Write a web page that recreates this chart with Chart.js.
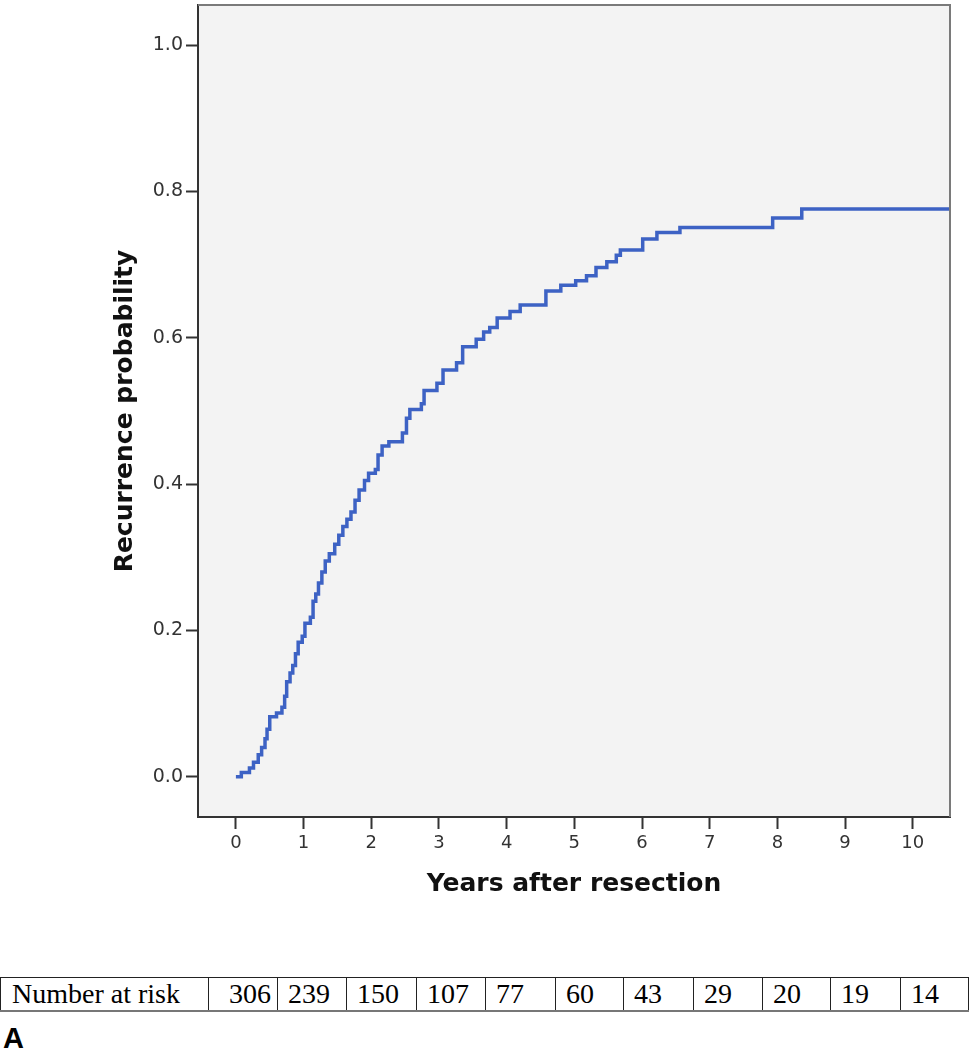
<!DOCTYPE html>
<html>
<head>
<meta charset="utf-8">
<script src="https://cdn.jsdelivr.net/npm/chart.js@4.4.1/dist/chart.umd.min.js"></script>
<style>
  html, body { margin: 0; padding: 0; background: #fff; }
  #wrap { position: relative; width: 970px; height: 1050px; overflow: hidden; }
  #kmChart { position: absolute; left: 0; top: 0; }
  #riskTable {
    position: absolute; left: 0; top: 977px;
    border-collapse: collapse;
    font-family: "Liberation Serif", "Times New Roman", serif;
    font-size: 28px; color: #000;
  }
  #riskTable td {
    border-left: 1px solid #222; border-top: 1px solid #222; border-bottom: 2px solid #777;
    height: 32px; padding: 0 0 0 10px; line-height: 32px; white-space: nowrap;
    box-sizing: border-box;
  }
  #riskTable td:last-child { border-right: 1px solid #222; }
  #panel {
    position: absolute; left: 3px; top: 1022px;
    font-family: "Liberation Sans", Arial, sans-serif; font-weight: bold; font-size: 29px;
  }
</style>
</head>
<body>
<div id="wrap">
  <canvas id="kmChart" width="970" height="920"></canvas>
  <table id="riskTable"><tr id="riskRow"></tr></table>
  <div id="panel">A</div>
</div>
<script>
// dados (anos, probabilidade acumulada de recidiva)
var anos = [0.00, 0.08, 0.20, 0.26, 0.33, 0.38, 0.43, 0.46, 0.50, 0.60, 0.68, 0.72, 0.75, 0.80, 0.84, 0.88,
            0.92, 0.98, 1.02, 1.10, 1.14, 1.18, 1.22, 1.27, 1.32, 1.38, 1.46, 1.52, 1.58, 1.64, 1.70, 1.76,
            1.82, 1.90, 1.96, 2.06, 2.10, 2.16, 2.26, 2.46, 2.52, 2.57, 2.74, 2.78, 2.97, 3.06, 3.26, 3.35,
            3.55, 3.66, 3.75, 3.86, 4.05, 4.20, 4.58, 4.80, 5.02, 5.18, 5.32, 5.48, 5.62, 5.68, 6.01, 6.22,
            6.56, 7.93, 8.36, 10.55];
var recidiva = [0.000, 0.006, 0.012, 0.020, 0.030, 0.040, 0.052, 0.065, 0.082, 0.087, 0.095, 0.110, 0.130, 0.142, 0.152, 0.168,
                0.184, 0.192, 0.210, 0.218, 0.240, 0.250, 0.265, 0.280, 0.295, 0.305, 0.318, 0.330, 0.342, 0.352, 0.362, 0.378,
                0.392, 0.405, 0.415, 0.420, 0.440, 0.452, 0.458, 0.470, 0.490, 0.502, 0.510, 0.528, 0.538, 0.556, 0.566, 0.588,
                0.598, 0.608, 0.614, 0.627, 0.636, 0.645, 0.664, 0.672, 0.678, 0.685, 0.696, 0.704, 0.713, 0.720, 0.735, 0.744,
                0.751, 0.764, 0.776, 0.776];
var ticksX = [0, 1, 2, 3, 4, 5, 6, 7, 8, 9, 10];
var ticksY = [0, 0.2, 0.4, 0.6, 0.8, 1.0];
var rotuloRisco = 'Number at risk';
var numeroRisco = [306, 239, 150, 107, 77, 60, 43, 29, 20, 19, 14];
var largurasColunas = [208, 69, 69, 70, 69, 70, 68, 70, 69, 68, 70, 68];

// tabela "Number at risk"
var linha = document.getElementById('riskRow');
[rotuloRisco].concat(numeroRisco).forEach(function(txt, i) {
    var td = document.createElement('td');
    td.textContent = txt;
    td.style.width = largurasColunas[i] + 'px';
    td.style.minWidth = largurasColunas[i] + 'px';
    if (i === 0) td.style.paddingLeft = '11px';
    if (i === 1) td.style.paddingLeft = '20px';
    linha.appendChild(td);
});

var fundoPlot = {
    id: 'fundoPlot',
    beforeDraw: function(chart) {
        var a = chart.chartArea, ctx = chart.ctx;
        ctx.save();
        ctx.fillStyle = '#f3f3f3';
        ctx.fillRect(a.left, a.top, a.right - a.left, a.bottom - a.top);
        ctx.restore();
    },
    afterDraw: function(chart) {
        var a = chart.chartArea, ctx = chart.ctx;
        ctx.save();
        ctx.strokeStyle = '#7a7a7a';
        ctx.lineWidth = 2;
        ctx.beginPath();
        ctx.moveTo(a.left, a.top);
        ctx.lineTo(a.right, a.top);
        ctx.lineTo(a.right, a.bottom);
        ctx.stroke();
        ctx.restore();
    }
};

var pontos = anos.map(function(t, i) { return {x: t, y: recidiva[i]}; });

new Chart(document.getElementById('kmChart'), {
    type: 'line',
    data: {
        datasets: [{
            data: pontos,
            stepped: true,
            borderColor: '#3d62c4',
            borderWidth: 3.5,
            pointRadius: 0,
            fill: false
        }]
    },
    options: {
        responsive: false,
        animation: false,
        devicePixelRatio: 1,
        layout: { padding: { left: 0, top: 5, right: 20, bottom: 0 } },
        plugins: { legend: { display: false }, tooltip: { enabled: false } },
        scales: {
            x: {
                type: 'linear',
                min: -0.56,
                max: 10.55,
                afterBuildTicks: function(s) { s.ticks = ticksX.map(function(v) { return {value: v}; }); },
                afterFit: function(s) { s.height = 103; s.paddingLeft = 0; s.paddingRight = 0; },
                ticks: { font: { family: 'DejaVu Sans', size: 18 }, color: '#333', padding: 4, maxRotation: 0 },
                grid: { drawOnChartArea: false, drawTicks: true, tickLength: 12, tickColor: '#333', tickWidth: 2 },
                border: { display: true, color: '#333', width: 2 },
                title: {
                    display: true, text: 'Years after resection', color: '#111',
                    font: { family: 'DejaVu Sans', size: 25, weight: 'bold' },
                    padding: { top: 0, bottom: 21 }
                }
            },
            y: {
                type: 'linear',
                min: -0.055,
                max: 1.055,
                afterBuildTicks: function(s) { s.ticks = ticksY.map(function(v) { return {value: v}; }); },
                afterFit: function(s) { s.width = 198; s.paddingTop = 0; s.paddingBottom = 0; },
                ticks: {
                    font: { family: 'DejaVu Sans', size: 19 }, color: '#333', padding: 3,
                    callback: function(v) { return Number(v).toFixed(1); }
                },
                grid: { drawOnChartArea: false, drawTicks: true, tickLength: 12, tickColor: '#333', tickWidth: 2 },
                border: { display: true, color: '#333', width: 2 },
                title: {
                    display: true, text: 'Recurrence probability', color: '#111',
                    font: { family: 'DejaVu Sans', size: 25, weight: 'bold' },
                    padding: { top: 110, bottom: 0 }
                }
            }
        }
    },
    plugins: [fundoPlot]
});
</script>
</body>
</html>
